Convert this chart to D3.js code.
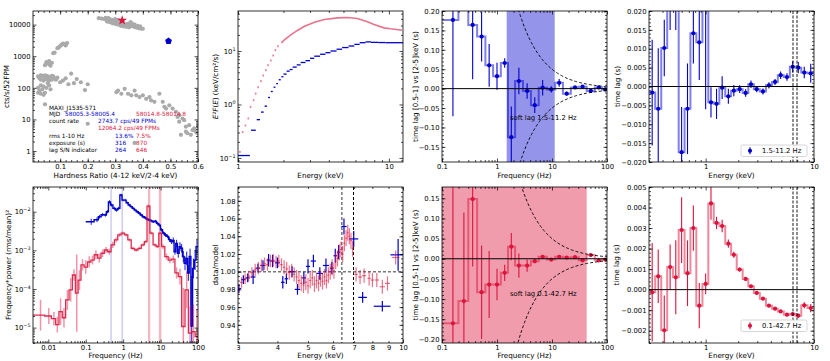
<!DOCTYPE html>
<html>
<head>
<meta charset="utf-8">
<script src="https://cdn.jsdelivr.net/npm/d3@7"></script>
<style>
  body { margin: 0; background: #fff; }
</style>
</head>
<body>
<script>
// ---------------- data ----------------
// hardness-intensity diagram (grey history)
var hidHR = [0.24,0.25,0.26,0.265,0.27,0.28,0.285,0.29,0.295,0.30,0.305,0.31,0.315,0.32,0.325,0.33,0.335,0.34,0.345,0.35,
  0.355,0.36,0.365,0.37,0.375,0.38,0.385,0.39,0.395,0.40,0.27,0.28,0.29,0.30,0.31,0.32,0.33,0.34,0.35,0.30,
  0.31,0.275,0.355,0.36,0.37,0.38,0.39,
  0.10,0.105,0.11,0.115,0.12,0.095,0.09,0.125,0.075,0.08,0.05,0.055,0.06,0.065,0.07,0.045,0.06,
  0.02,0.03,0.035,0.04,0.045,0.05,0.055,0.06,0.065,0.07,0.075,0.08,0.085,0.09,0.025,0.03,0.04,0.05,0.06,0.07,
  0.10,0.11,0.12,0.13,0.14,0.15,0.16,0.175,0.19,0.20,0.02,0.025,0.03,0.035,0.04,0.045,0.05,0.055,0.06,0.065,
  0.02,0.03,0.04,0.045,0.20,0.37,
  0.304,0.31,0.322,0.334,0.346,0.358,0.37,0.376,0.388,0.40,0.412,0.424,0.43,0.442,0.46,0.472,0.478,0.484,0.496,0.508,
  0.52,0.532,0.544,0.55,0.556,0.568,0.58,0.592,0.598,0.574,0.538,0.556,0.586,0.60,0.562,0.532,0.526];
var hidRate = [16000,15500,15000,16500,14500,15000,13500,14000,12500,13000,12000,11500,12500,11000,10500,11000,10000,9800,10500,9500,
  9000,9300,8800,8500,8200,8000,7800,7600,7500,7400,12500,12000,11000,10500,10000,9200,8800,8500,8200,15000,
  14000,16000,12000,11000,10000,9200,8800,
  2100,2300,2500,2400,2200,1900,1800,2600,1250,1300,650,600,560,500,620,520,700,
  230,250,240,220,250,240,230,210,220,240,230,200,180,210,200,180,170,190,170,180,
  150,170,200,130,280,140,190,150,85,130,100,80,120,90,110,70,100,140,120,90,
  70,65,60,30,7.3,1.8,
  73,82,65,93,65,58,82,58,51,58,45,51,40,36,65,36,25,22,28,22,
  17.5,13.6,10.7,9.5,5.9,6.6,4.6,4.1,3.65,3.25,3.25,4.1,5.2,5.9,3.65,8.5,12];
var obsHR = [0.493, 0.325];      // blue obs, red obs
var obsRate = [3000, 13600];

// unfolded spectra
var specBlueLo = [1.00,1.22,1.33,1.42,1.50,1.58,1.65,1.72,1.79,1.86,1.94,2.0,2.1,2.2,2.3,2.45,2.6,2.8,3.0,3.2,3.5,3.8,4.1,4.5,4.9,5.4,5.9,6.4,7.0,7.6,8.5,9.5];
var specBlueHi = [1.20,1.31,1.40,1.48,1.56,1.63,1.70,1.77,1.84,1.92,2.0,2.1,2.2,2.3,2.45,2.6,2.8,3.0,3.2,3.5,3.8,4.1,4.5,4.9,5.4,5.9,6.4,7.0,7.6,8.5,9.5,12.4];
var specBlueVal = [0.111,0.33,0.52,0.72,0.93,1.35,1.75,2.1,2.45,2.9,3.3,3.7,4.2,4.5,5.0,5.5,6.1,6.6,7.3,8.0,8.7,9.3,10.0,10.8,11.6,12.4,13.3,14.3,14.8,14.5,14.4,14.3];
var specRedE = [1.03,1.074,1.12,1.17,1.21,1.27,1.31,1.36,1.42,1.47,1.53,1.58,1.65,1.71,1.77,1.84,1.94,2.04,2.25,2.49,2.76,3.21,3.74,4.57,5.31,6.19,7.2,7.97,9.27,10.26,12.2];
var specRedVal = [0.13,0.304,0.405,0.547,0.90,1.2,1.6,2.1,2.73,3.48,4.38,5.43,6.64,8.24,10.4,12.3,14.2,16.4,20.3,24.5,29.1,34.6,38.8,41.7,42.3,40.5,35.1,31.3,27.1,26,24.5];

// lag vs frequency
var lagFreq = [0.158,0.25,0.361,0.525,0.72,1.0,1.38,1.82,2.5,3.53,4.86,6.76,9.7,13.5,18.5,26.2,36,50.7,70.8,93];
var lagFBlue = [0.177,0.30,0.164,0.134,0.060,0.032,0.066,-0.125,0.0196,-0.006,-0.0425,0.0025,-0.002,0.015,-0.013,0.003,0.005,-0.006,0.003,-0.002];
var lagFBlueErr = [0.248,0.08,0.14,0.064,0.055,0.035,0.012,0.079,0.034,0.02,0.02,0.02,0.008,0.01,0.005,0.004,0.004,0.005,0.004,0.004];
var lagFRed = [-0.16,-0.105,0.148,-0.083,-0.064,-0.064,-0.035,0.03,-0.017,-0.017,-0.006,0.005,-0.002,0.005,0.003,0.004,-0.004,0.009,-0.004,-0.002];
var lagFRedErr = [0.4,0.22,0.167,0.116,0.083,0.039,0.02,0.034,0.03,0.015,0.005,0.004,0.004,0.004,0.003,0.003,0.003,0.003,0.003,0.003];

// lag vs energy
var lagE = [0.321,0.365,0.415,0.47,0.53,0.6,0.68,0.77,0.873,1.0,1.12,1.26,1.42,1.62,1.82,2.06,2.34,2.62,2.96,3.38,3.84,4.37,4.92,5.63,6.36,7.16,8.13,9.33];
var lagEBlue = [-0.0016,-0.0059,0.0102,0.030,0.027,-0.0174,-0.0059,0.0141,0.0117,0.022,-0.0042,-0.0046,-0.0003,-0.0026,-0.0011,-0.0007,-0.0017,0.0006,-0.0007,-0.0013,0.0003,0.0012,0.003,0.0025,0.0052,0.005,0.0037,0.0035];
var lagEBlueErr = [0.014,0.016,0.0075,0.015,0.012,0.012,0.012,0.008,0.01,0.028,0.004,0.004,0.003,0.002,0.0015,0.001,0.001,0.001,0.0008,0.0008,0.0008,0.0008,0.001,0.001,0.0015,0.0015,0.0015,0.0025];
var lagERed = [-0.00013,0.00065,-0.00198,0.0011,0.0006,0.0029,0.0008,0.003,-0.00078,0.00028,0.0042,0.00325,0.0031,0.00224,0.0017,0.00098,0.00052,0.00016,-0.00016,-0.00044,-0.00078,-0.00093,-0.00106,-0.00122,-0.00119,-0.00127,-0.00076,-0.0009];
var lagERedErr = [0.0024,0.0013,0.0017,0.0011,0.0018,0.0016,0.0016,0.0011,0.0011,0.0005,0.0008,0.0003,0.0003,0.0002,0.00015,0.0001,0.0001,0.00008,0.00008,0.00007,0.00007,0.00007,0.00007,0.00008,0.0001,0.0001,0.00015,0.0002];

// power spectra (frequency * power)
var psdBlueF = [0.14,0.2,0.235,0.283,0.335,0.38,0.43,0.49,0.58,0.66,0.76,0.88,0.99,1.13,1.28,1.45,1.64,1.86,2.1,2.39,
  2.7,3.05,3.45,3.9,4.4,5.0,5.7,6.45,7.3,8.25,9.3,10.6,12,13.6,15.4,17.4,19.7,21.8,24.2,26.8,
  29.7,33,36.6,40.5,45,50,55.3,61.3,68,75.5,83.6,94];
var psdBlueP = [5.5e-3,6.2e-3,7.4e-3,8.4e-3,8.2e-3,1.0e-2,1.8e-2,1.49e-2,1.22e-2,1.1e-2,1.22e-2,2.7e-2,2.0e-2,2.0e-2,1.7e-2,1.49e-2,1.35e-2,1.22e-2,1.1e-2,1.0e-2,
  9.1e-3,8.2e-3,7.4e-3,7.0e-3,6.4e-3,6.1e-3,5.8e-3,5.5e-3,5.7e-3,5.0e-3,4.5e-3,3.4e-3,2.8e-3,2.5e-3,2.3e-3,1.9e-3,1.68e-3,1.8e-3,9.2e-4,1.5e-3,
  8.4e-4,1.25e-3,1.13e-3,6.9e-4,4.6e-4,6.2e-4,2.6e-4,6.9e-4,1.1e-5,3.4e-4,5.6e-4,1.25e-3];
var psdBlueErr = [1.2,1.15,1.12,1.1,1.1,1.1,1.1,1.1,1.1,1.1,1.1,1.08,1.08,1.08,1.08,1.08,1.08,1.08,1.08,1.08,
  1.08,1.08,1.08,1.08,1.08,1.08,1.08,1.08,1.08,1.1,1.1,1.1,1.1,1.12,1.12,1.15,1.15,1.2,1.2,1.25,
  1.3,1.3,1.3,1.4,1.5,1.5,1.6,1.6,20,1.8,1.8,1.5];
var psdRedF = [0.0062,0.0103,0.0141,0.0174,0.0213,0.0262,0.0323,0.0397,0.0487,0.0575,0.068,0.082,0.1,0.124,0.152,0.187,0.23,0.283,0.348,0.428,
  0.527,0.648,0.797,0.98,1.2,1.48,1.82,2.24,2.75,3.39,4.0,4.72,5.69,6.99,8.25,9.73,11.7,14.4,17.7,21.8,
  26.8,33,40.5,49.9,61.4,75.5,93];
var psdRedP = [2.1e-5,2.0e-5,1.7e-5,1.2e-5,2.6e-5,1.8e-5,5.2e-5,9.5e-5,2.3e-4,7.8e-5,1.7e-4,4.2e-4,3.7e-4,5.0e-4,5.6e-4,7.7e-4,6.3e-4,8.4e-4,1.02e-3,9.2e-4,
  1.38e-3,1.86e-3,2.5e-3,2.8e-3,2.5e-3,1.86e-3,1.13e-3,1.02e-3,1.13e-3,1.38e-3,1.68e-3,1.4e-2,2.8e-3,1.38e-3,1.25e-3,2.8e-3,1.25e-3,6.9e-4,5.6e-4,5.9e-4,
  2.6e-4,2.1e-4,1.07e-5,9.5e-5,7.2e-6,7.9e-6,5.9e-6];
var psdRedErr = [2.5,1.6,1.5,1.6,2.2,1.8,1.8,2.0,1.4,10,1.8,1.4,1.5,1.4,1.3,1.3,1.3,1.25,1.2,1.2,
  1.2,1.15,1.12,1.1,1.1,1.1,1.1,1.1,1.1,1.1,1.1,1.1,1.1,1.1,1.1,1.1,1.15,1.2,1.2,1.25,
  1.4,1.6,10,3,5,5,5];
var qpoBlue = [0.475, 0.94];
var qpoRedLo = [4.6, 9.0], qpoRedHi = [5.3, 10.5];

// data/model ratios
var ratioBlueE = [3.02,3.12,3.22,3.35,3.47,3.6,3.75,3.86,4.0,4.16,4.27,4.45,4.63,4.85,5.0,5.2,5.45,5.7,5.95,6.1,6.25,6.5,6.98,7.45,8.6,9.65];
var ratioBlueV = [0.981,0.991,0.993,0.994,1.004,1.007,1.013,1.012,1.010,0.988,0.992,1.000,0.980,0.993,1.006,1.012,0.998,1.007,1.004,1.018,1.022,1.051,1.037,0.971,0.961,1.019];
var ratioBlueErr = [0.005,0.005,0.005,0.008,0.005,0.006,0.007,0.007,0.006,0.007,0.006,0.006,0.006,0.007,0.008,0.007,0.007,0.008,0.007,0.008,0.008,0.009,0.009,0.006,0.006,0.018];
var ratioRedE = [3.0,3.08,3.16,3.24,3.32,3.4,3.48,3.56,3.64,3.72,3.8,3.88,3.96,4.04,4.12,4.2,4.28,4.36,4.44,4.52,
  4.6,4.68,4.76,4.84,4.92,5.0,5.08,5.16,5.24,5.32,5.4,5.48,5.56,5.64,5.72,5.8,5.88,5.96,6.04,6.12,
  6.2,6.28,6.36,6.44,6.52,6.6,6.68,6.76,6.84,6.92,7.1,7.31,7.53,7.81,8.0,8.26,8.6,8.93,9.48];
var ratioRedV = [0.980,0.988,0.992,0.995,0.999,1.002,1.004,1.007,1.009,1.008,1.012,1.013,1.011,1.012,1.008,1.005,1.003,0.999,1.001,0.997,
  0.994,0.990,0.987,0.985,0.988,0.984,0.990,0.993,0.986,0.990,0.987,0.992,0.989,0.994,0.990,0.996,1.000,1.005,1.001,1.012,
  1.015,1.022,1.025,1.020,1.032,1.038,1.044,1.040,1.035,1.026,0.997,0.994,0.9955,0.9925,0.9906,0.9906,0.983,0.9868,1.016];
var ratioRedErr = [0.006,0.006,0.006,0.006,0.006,0.007,0.007,0.007,0.007,0.007,0.007,0.007,0.007,0.007,0.007,0.008,0.008,0.008,0.008,0.008,
  0.008,0.009,0.009,0.009,0.009,0.009,0.009,0.009,0.009,0.009,0.009,0.009,0.009,0.009,0.009,0.009,0.009,0.009,0.009,0.009,
  0.009,0.009,0.009,0.009,0.009,0.009,0.009,0.009,0.009,0.009,0.008,0.008,0.008,0.008,0.008,0.008,0.008,0.008,0.008];
var ironLines = [6.4, 6.97];

// ---------------- layout ----------------
var FS = 6.8, LFS = 7.2;
var BLUE = "#0000cd", RED = "#dc143c";
var colX = [33, 238, 442, 649], PW = 165;
var rowY = [11, 187], rowH = [151, 156], xlabOff = [16, 15];

var svg = d3.select("body").append("svg")
    .attr("width", 830).attr("height", 361)
    .attr("font-family", "DejaVu Sans, sans-serif")
    .attr("font-size", FS);

function makePanel(c, r, x, y) {
    var w = PW, h = rowH[r];
    x.range([0, w]); y.range([h, 0]);
    var g = svg.append("g").attr("transform", "translate(" + colX[c] + "," + rowY[r] + ")");
    var id = "clip" + c + r;
    g.append("clipPath").attr("id", id).append("rect").attr("width", w).attr("height", h);
    return {g: g, plot: g.append("g").attr("clip-path", "url(#" + id + ")"), x: x, y: y, w: w, h: h, row: r};
}

function logT(dom) {
    var maj = [], min = [];
    for (var k = Math.floor(Math.log10(dom[0])); k <= Math.ceil(Math.log10(dom[1])); k++) {
        var b = +("1e" + k);
        if (b >= dom[0] * 0.9999 && b <= dom[1] * 1.0001) maj.push(b);
        for (var m = 2; m < 10; m++) {
            var v = +(m * b).toPrecision(6);
            if (v >= dom[0] && v <= dom[1]) min.push(v);
        }
    }
    return {maj: maj, min: min};
}
function linT(a, b, step) {
    var n = Math.round((b - a) / step);
    return d3.range(n + 1).map(function(i) { return +(a + i * step).toFixed(6); });
}

function powLabel(t, d) {
    var e = Math.round(Math.log10(d));
    t.text("");
    t.append("tspan").text("10");
    t.append("tspan").attr("dy", -3).attr("font-size", FS * 0.72).text((e < 0 ? "\u2212" : "") + Math.abs(e));
}

var AX = {bottom: d3.axisBottom, top: d3.axisTop, left: d3.axisLeft, right: d3.axisRight};
function drawAxes(p, o) {
    var blank = function() { return ""; };
    [["bottom", p.x, o.xMaj, o.xMin, o.xFmt, o.xMinFmt, 0, p.h],
     ["top", p.x, o.xMaj, o.xMin, null, null, 0, 0],
     ["left", p.y, o.yMaj, o.yMin, o.yFmt, null, 0, 0],
     ["right", p.y, o.yMaj, o.yMin, null, null, p.w, 0]].forEach(function(s) {
        var t = "translate(" + s[6] + "," + s[7] + ")";
        [[s[3], 2, s[5]], [s[2], 3.5, s[4]]].forEach(function(k) {
            var ax = p.g.append("g").attr("transform", t)
                .call(AX[s[0]](s[1]).tickValues(k[0]).tickSize(-k[1]).tickPadding(2.5)
                    .tickFormat(typeof k[2] === "function" ? k[2] : blank));
            ax.select(".domain").remove();
            ax.attr("font-size", FS).attr("font-family", null);
            ax.selectAll("line").attr("stroke-width", 0.7);
            if (k[2] === "pow") ax.selectAll(".tick text").each(function(d) { powLabel(d3.select(this), d); });
        });
    });
    p.g.append("rect").attr("width", p.w).attr("height", p.h)
        .attr("fill", "none").attr("stroke", "#000").attr("stroke-width", 0.8);
}

// y label built from separate text pieces laid end to end, then centred
function yLabel(p, parts, yOff) {
    var g = p.g.append("g").attr("transform", "translate(" + (-yOff) + "," + (p.h / 2) + ") rotate(-90)");
    if (typeof parts === "string") parts = [[parts, ""]];
    var x = 0, pieces = [];
    parts.forEach(function(q) {
        var t = g.append("text").attr("x", x).attr("dy", "0.35em").attr("font-size", LFS).text(q[0]);
        if (q[1] === "i") t.attr("font-style", "italic");
        pieces.push([t, x]);
        x += t.node().getComputedTextLength();
    });
    pieces.forEach(function(pc) { pc[0].attr("x", pc[1] - x / 2); });
}
function axisLabels(p, xl, yl, yOff) {
    p.g.append("text").attr("x", p.w / 2).attr("y", p.h + xlabOff[p.row])
        .attr("text-anchor", "middle").attr("font-size", LFS).text(xl);
    yLabel(p, yl, yOff);
}

function stepPoints(xs, vs, lo, hi) {
    var pts = xs.map(function(x, i) { return [i === 0 ? lo : Math.sqrt(xs[i - 1] * x), vs[i]]; });
    pts.push([hi, vs[vs.length - 1]]);
    return pts;
}
function halfGaps(xs) {
    return xs.map(function(x, i) {
        var a = i > 0 ? (x - xs[i - 1]) / 2 : Infinity, b = i < xs.length - 1 ? (xs[i + 1] - x) / 2 : Infinity;
        return Math.min(a, b);
    });
}

function lagData(p, xs, vs, es, col, lo, hi) {
    var line = d3.line().x(function(d) { return p.x(d[0]); }).y(function(d) { return p.y(d[1]); }).curve(d3.curveStepAfter);
    p.plot.append("path").datum(stepPoints(xs, vs, lo, hi)).attr("d", line)
        .attr("fill", "none").attr("stroke", col).attr("stroke-opacity", 0.5).attr("stroke-width", 2);
    p.plot.selectAll(null).data(xs).join("line")
        .attr("x1", function(d) { return p.x(d); }).attr("x2", function(d) { return p.x(d); })
        .attr("y1", function(d, i) { return p.y(vs[i] - es[i]); }).attr("y2", function(d, i) { return p.y(vs[i] + es[i]); })
        .attr("stroke", col).attr("stroke-width", 1.1);
    p.plot.selectAll(null).data(xs).join("circle")
        .attr("cx", function(d) { return p.x(d); }).attr("cy", function(d, i) { return p.y(vs[i]); })
        .attr("r", 2.1).attr("fill", col);
}
function hline(p, v, col, w, dash) {
    p.plot.append("line").attr("x1", 0).attr("x2", p.w).attr("y1", p.y(v)).attr("y2", p.y(v))
        .attr("stroke", col).attr("stroke-width", w).attr("stroke-dasharray", dash || null);
}
function vline(p, v, col, w, dash) {
    return p.plot.append("line").attr("x1", p.x(v)).attr("x2", p.x(v)).attr("y1", 0).attr("y2", p.h)
        .attr("stroke", col).attr("stroke-width", w).attr("stroke-dasharray", dash || null);
}
function lagLimits(p) {
    var fs = d3.range(0, 121).map(function(i) { return 0.1 * Math.pow(10, i / 40); });
    [1, -1].forEach(function(sgn) {
        p.plot.append("path").datum(fs)
            .attr("d", d3.line().x(function(f) { return p.x(f); }).y(function(f) { return p.y(sgn / (2 * f)); }))
            .attr("fill", "none").attr("stroke", "#000").attr("stroke-width", 0.9).attr("stroke-dasharray", "3,2");
    });
}
function legend(p, y, col, label) {
    var g = p.g.append("g").attr("transform", "translate(92," + y + ")");
    g.append("rect").attr("width", 66).attr("height", 11.5).attr("rx", 1.5)
        .attr("fill", "#fff").attr("stroke", "#ccc").attr("stroke-width", 0.8);
    g.append("line").attr("x1", 9).attr("x2", 9).attr("y1", 2.3).attr("y2", 9.2).attr("stroke", col).attr("stroke-width", 1.1);
    g.append("circle").attr("cx", 9).attr("cy", 5.75).attr("r", 2.1).attr("fill", col);
    g.append("text").attr("x", 21).attr("y", 8.2).text(label);
}

// ---------------- panel 1: HID ----------------
var p1 = makePanel(0, 0, d3.scaleLinear().domain([0.0015, 0.6]), d3.scaleLog().domain([0.45, 27000]));
p1.plot.selectAll(null).data(hidHR).join("circle")
    .attr("cx", function(d) { return p1.x(d); }).attr("cy", function(d, i) { return p1.y(hidRate[i]); })
    .attr("r", 2.1).attr("fill", "#aaaaaa");
var pentagon = {draw: function(ctx, size) {
    var r = Math.sqrt(size / 2.378);
    for (var i = 0; i < 5; i++) {
        var a = -Math.PI / 2 + i * 2 * Math.PI / 5;
        if (i === 0) ctx.moveTo(r * Math.cos(a), r * Math.sin(a)); else ctx.lineTo(r * Math.cos(a), r * Math.sin(a));
    }
    ctx.closePath();
}};
p1.plot.append("path").attr("d", d3.symbol().type(pentagon).size(30)())
    .attr("transform", "translate(" + p1.x(obsHR[0]) + "," + p1.y(obsRate[0]) + ")").attr("fill", BLUE);
p1.plot.append("path").attr("d", d3.symbol().type(d3.symbolStar).size(30)())
    .attr("transform", "translate(" + p1.x(obsHR[1]) + "," + p1.y(obsRate[1]) + ")").attr("fill", RED);
var note = p1.g.append("g").attr("font-size", 5.8);
[["MAXI_J1535-571", 16, 98.5, "#000"], ["MJD", 16, 105.2, "#000"], ["58005.3-58005.4", 32, 105.2, BLUE], ["58014.8-58014.8", 103, 105.2, RED],
 ["count rate", 16, 111.9, "#000"], ["2743.7 cps/49 FPMs", 65, 111.9, BLUE], ["12064.2 cps/49 FPMs", 65, 118.6, RED],
 ["rms 1-10 Hz", 16, 126.5, "#000"], ["13.6%", 82, 126.5, BLUE], ["7.5%", 103, 126.5, RED],
 ["exposure (s)", 16, 133.5, "#000"], ["316", 82, 133.5, BLUE], ["870", 103, 133.5, RED],
 ["lag S/N indicator", 16, 140.5, "#000"], ["264", 82, 140.5, BLUE], ["646", 103, 140.5, RED]].forEach(function(t) {
    note.append("text").attr("x", t[1]).attr("y", t[2]).attr("fill", t[3]).text(t[0]);
});
var t1 = logT(p1.y.domain());
drawAxes(p1, {xMaj: linT(0.1, 0.6, 0.1), xMin: linT(0.02, 0.6, 0.02), xFmt: d3.format(".1f"),
    yMaj: t1.maj, yMin: t1.min, yFmt: d3.format("d")});
axisLabels(p1, "Hardness Ratio (4-12 keV/2-4 keV)", "cts/s/52FPM", 27);

// ---------------- panel 2: spectra ----------------
var p2 = makePanel(1, 0, d3.scaleLog().domain([1, 12.4]), d3.scaleLog().domain([0.084, 56]));
var redLo = specRedE.map(function(e, i) { return [e, specRedVal[i]]; }).filter(function(d) { return d[0] < 1.9; });
p2.plot.selectAll(null).data(redLo).join("rect")
    .attr("x", function(d) { return p2.x(d[0]) - 0.8; }).attr("width", 1.6)
    .attr("y", function(d) { return p2.y(d[1]) - 1; }).attr("height", 2)
    .attr("fill", RED).attr("fill-opacity", 0.55);
var redHi = specRedE.map(function(e, i) { return [e, specRedVal[i]]; }).filter(function(d) { return d[0] >= 1.9; });
p2.plot.append("path").datum(redHi)
    .attr("d", d3.line().x(function(d) { return p2.x(d[0]); }).y(function(d) { return p2.y(d[1]); }))
    .attr("fill", "none").attr("stroke", RED).attr("stroke-opacity", 0.6).attr("stroke-width", 1.6);
p2.plot.selectAll(null).data(specBlueLo).join("line")
    .attr("x1", function(d) { return p2.x(d); }).attr("x2", function(d, i) { return p2.x(specBlueHi[i]); })
    .attr("y1", function(d, i) { return p2.y(specBlueVal[i]); }).attr("y2", function(d, i) { return p2.y(specBlueVal[i]); })
    .attr("stroke", BLUE).attr("stroke-width", 1.3);
var t2x = logT(p2.x.domain()), t2y = logT(p2.y.domain());
drawAxes(p2, {xMaj: t2x.maj, xMin: t2x.min, xFmt: d3.format("~g"), yMaj: t2y.maj, yMin: t2y.min, yFmt: "pow"});
axisLabels(p2, "Energy (keV)", [["E\u00b2F", "i"], ["(", ""], ["E", "i"], [")\u00a0(keV/cm\u00b2/s)", ""]], 23);

// ---------------- panel 3: blue lag-frequency ----------------
var p3 = makePanel(2, 0, d3.scaleLog().domain([0.1, 100]), d3.scaleLinear().domain([-0.189, 0.2]));
p3.plot.append("rect").attr("x", p3.x(1.5)).attr("width", p3.x(11.2) - p3.x(1.5)).attr("height", p3.h)
    .attr("fill", BLUE).attr("fill-opacity", 0.42);
lagData(p3, lagFreq, lagFBlue, lagFBlueErr, BLUE, 0.1, 100);
hline(p3, 0, "#000", 1);
lagLimits(p3);
p3.g.append("text").attr("x", 68).attr("y", 108.5).text("soft lag 1.5-11.2 Hz");
var t3 = logT(p3.x.domain());
drawAxes(p3, {xMaj: t3.maj, xMin: t3.min, xFmt: d3.format("~g"), yMaj: linT(-0.15, 0.2, 0.05), yMin: linT(-0.18, 0.2, 0.01), yFmt: d3.format(".2f")});
axisLabels(p3, "Frequency (Hz)", "time lag [0.5-1] vs [2-5]keV (s)", 27);

// ---------------- panel 4: blue lag-energy ----------------
var p4 = makePanel(3, 0, d3.scaleLog().domain([0.3, 10]), d3.scaleLinear().domain([-0.02, 0.02]));
lagData(p4, lagE, lagEBlue, lagEBlueErr, BLUE, 0.3, 10);
hline(p4, 0, "#000", 1);
ironLines.forEach(function(e) { vline(p4, e, "#000", 0.9, "3,1.5"); });
legend(p4, 134, BLUE, "1.5-11.2 Hz");
var t4 = logT(p4.x.domain());
drawAxes(p4, {xMaj: t4.maj, xMin: t4.min, xFmt: d3.format("~g"), yMaj: linT(-0.02, 0.02, 0.005), yMin: linT(-0.02, 0.02, 0.001), yFmt: d3.format(".3f")});
axisLabels(p4, "Energy (keV)", "time lag (s)", 32);

// ---------------- panel 5: power spectra ----------------
var p5 = makePanel(0, 1, d3.scaleLog().domain([0.0039, 100]), d3.scaleLog().domain([4.0e-6, 0.0436]));
qpoBlue.forEach(function(f) { vline(p5, f, BLUE, 1, null).attr("stroke-opacity", 0.3); });
p5.plot.selectAll(null).data(qpoRedLo).join("rect")
    .attr("x", function(d) { return p5.x(d); }).attr("width", function(d, i) { return p5.x(qpoRedHi[i]) - p5.x(d); })
    .attr("height", p5.h).attr("fill", RED).attr("fill-opacity", 0.3);
var psdLine = d3.line().x(function(d) { return p5.x(d[0]); }).y(function(d) { return p5.y(d[1]); }).curve(d3.curveStepAfter);
function psdErr(fs, ps, es, col, op, w) {
    p5.plot.selectAll(null).data(fs).join("line")
        .attr("x1", function(d) { return p5.x(d); }).attr("x2", function(d) { return p5.x(d); })
        .attr("y1", function(d, i) { return p5.y(ps[i] / es[i]); }).attr("y2", function(d, i) { return p5.y(ps[i] * es[i]); })
        .attr("stroke", col).attr("stroke-opacity", op).attr("stroke-width", w);
}
psdErr(psdBlueF, psdBlueP, psdBlueErr, BLUE, 0.9, 1);
p5.plot.append("path").datum(stepPoints(psdBlueF, psdBlueP, 0.1, 100)).attr("d", psdLine)
    .attr("fill", "none").attr("stroke", BLUE).attr("stroke-width", 1.4);
psdErr(psdRedF, psdRedP, psdRedErr, RED, 0.45, 1.5);
p5.plot.append("path").datum(stepPoints(psdRedF, psdRedP, 0.0039, 100)).attr("d", psdLine)
    .attr("fill", "none").attr("stroke", RED).attr("stroke-opacity", 0.9).attr("stroke-width", 1.3);
var t5x = logT(p5.x.domain()), t5y = logT(p5.y.domain());
drawAxes(p5, {xMaj: t5x.maj, xMin: t5x.min, xFmt: d3.format("~g"), yMaj: t5y.maj, yMin: t5y.min, yFmt: "pow"});
axisLabels(p5, "Frequency (Hz)", "Frequency*power (rms/mean)\u00b2", 25);

// ---------------- panel 6: data/model ----------------
var p6 = makePanel(1, 1, d3.scaleLog().domain([3, 10]), d3.scaleLinear().domain([0.9195, 1.0956]));
vline(p6, ironLines[0], "#777", 1.5, "3,2");
vline(p6, ironLines[1], "#000", 1, "3,2");
hline(p6, 1, "#777", 1.5, "3,2");
function crosses(es, vs, errs, col, op) {
    var xe = halfGaps(es);
    var g = p6.plot.append("g").attr("stroke", col).attr("stroke-opacity", op).attr("stroke-width", 1.2);
    g.selectAll(null).data(es).join("line")
        .attr("x1", function(d, i) { return p6.x(d - xe[i]); }).attr("x2", function(d, i) { return p6.x(d + xe[i]); })
        .attr("y1", function(d, i) { return p6.y(vs[i]); }).attr("y2", function(d, i) { return p6.y(vs[i]); });
    g.selectAll(null).data(es).join("line")
        .attr("x1", function(d) { return p6.x(d); }).attr("x2", function(d) { return p6.x(d); })
        .attr("y1", function(d, i) { return p6.y(vs[i] - errs[i]); }).attr("y2", function(d, i) { return p6.y(vs[i] + errs[i]); });
}
crosses(ratioBlueE, ratioBlueV, ratioBlueErr, BLUE, 1);
crosses(ratioRedE, ratioRedV, ratioRedErr, RED, 0.6);
drawAxes(p6, {xMaj: [10], xMin: [3, 4, 5, 6, 7, 8, 9], xFmt: d3.format("d"), xMinFmt: d3.format("d"),
    yMaj: linT(0.94, 1.08, 0.02), yMin: linT(0.92, 1.095, 0.005), yFmt: d3.format(".2f")});
axisLabels(p6, "Energy (keV)", "data/model", 23);

// ---------------- panel 7: red lag-frequency ----------------
var p7 = makePanel(2, 1, d3.scaleLog().domain([0.1, 100]), d3.scaleLinear().domain([-0.209, 0.178]));
p7.plot.append("rect").attr("x", p7.x(0.1)).attr("width", p7.x(42.7) - p7.x(0.1)).attr("height", p7.h)
    .attr("fill", RED).attr("fill-opacity", 0.42);
lagData(p7, lagFreq, lagFRed, lagFRedErr, RED, 0.1, 100);
hline(p7, 0, "#000", 1);
lagLimits(p7);
p7.g.append("text").attr("x", 68).attr("y", 108.5).text("soft lag 0.1-42.7 Hz");
var t7 = logT(p7.x.domain());
drawAxes(p7, {xMaj: t7.maj, xMin: t7.min, xFmt: d3.format("~g"), yMaj: linT(-0.2, 0.15, 0.05), yMin: linT(-0.2, 0.17, 0.01), yFmt: d3.format(".2f")});
axisLabels(p7, "Frequency (Hz)", "time lag [0.5-1] vs [2-5]keV (s)", 27);

// ---------------- panel 8: red lag-energy ----------------
var p8 = makePanel(3, 1, d3.scaleLog().domain([0.3, 10]), d3.scaleLinear().domain([-0.0026, 0.005]));
lagData(p8, lagE, lagERed, lagERedErr, RED, 0.3, 10);
hline(p8, 0, "#000", 1);
ironLines.forEach(function(e) { vline(p8, e, "#000", 0.9, "3,1.5"); });
legend(p8, 133, RED, "0.1-42.7 Hz");
var t8 = logT(p8.x.domain());
drawAxes(p8, {xMaj: t8.maj, xMin: t8.min, xFmt: d3.format("~g"), yMaj: linT(-0.002, 0.005, 0.001), yMin: linT(-0.0026, 0.005, 0.0002), yFmt: d3.format(".3f")});
axisLabels(p8, "Energy (keV)", "time lag (s)", 33);
</script>
</body>
</html>
